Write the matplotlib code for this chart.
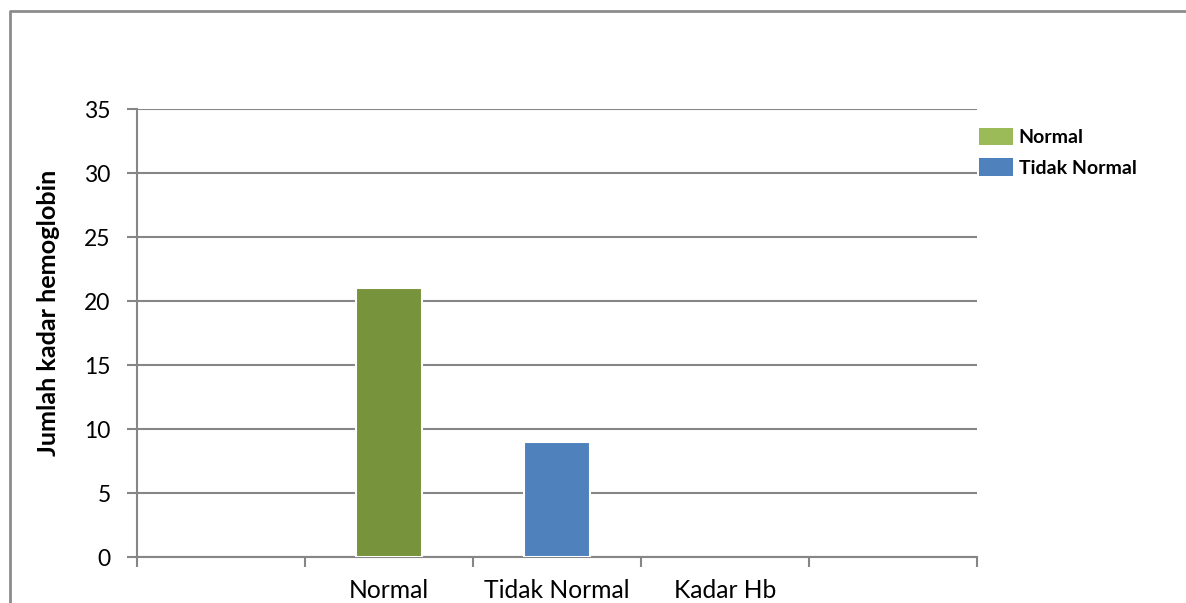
import matplotlib
matplotlib.use("Agg")
import matplotlib.pyplot as plt
from matplotlib.lines import Line2D
from matplotlib.patches import Patch

categories = ["", "Normal", "Tidak Normal", "Kadar Hb", ""]
series_names = ["Normal", "Tidak Normal"]
series_positions = [1, 2]
series_values = [21, 9]
bar_colors = ["#77933C", "#4F81BD"]
legend_colors = ["#9BBB59", "#4F81BD"]
yticks = [0, 5, 10, 15, 20, 25, 30, 35]

W, H = 1186, 603
fig = plt.figure(figsize=(W / 100, H / 100), dpi=100)
plt.rcParams['font.family'] = ['Lato', 'DejaVu Sans']

L, R, T, B = 137, 977, 109, 557
ax = fig.add_axes([L / W, (H - B) / H, (R - L) / W, (B - T) / H])

grid_c = "#868686"
ax.set_xlim(-0.5, len(categories) - 0.5)
ax.set_ylim(0, 35)
ax.set_yticks(yticks)
ax.yaxis.grid(True, color=grid_c, linewidth=1.5)
ax.set_axisbelow(True)

for pos, val, c in zip(series_positions, series_values, bar_colors):
    ax.bar(pos, val, width=0.39, color=c, edgecolor="white", linewidth=1.5, zorder=3)

ax.set_xticks([i - 0.5 for i in range(len(categories) + 1)])
ax.set_xticklabels([])
ax.set_xticks(range(len(categories)), minor=True)
ax.set_xticklabels(categories, minor=True, fontsize=17.7)
ax.tick_params(axis="x", which="minor", length=0, pad=16)
ax.tick_params(axis="x", which="major", length=7, color=grid_c, width=1.5)
ax.tick_params(axis="y", length=7, color=grid_c, width=1.5, labelsize=16.5, pad=12)

for s in ["top", "right"]:
    ax.spines[s].set_visible(False)
for s in ["left", "bottom"]:
    ax.spines[s].set_color(grid_c)
    ax.spines[s].set_linewidth(1.5)

fig.text(49 / W, 1 - 313 / H, "Jumlah kadar hemoglobin", rotation=90,
         ha="center", va="center", fontsize=18.2, fontweight="bold")

handles = [Patch(facecolor=c, edgecolor="none") for c in legend_colors]
leg = fig.legend(handles, series_names, loc="upper left",
                 bbox_to_anchor=(973 / W, 1 - 122 / H), frameon=False,
                 prop={"weight": "bold", "size": 14}, handlelength=1.75,
                 handleheight=1.0, handletextpad=0.3, labelspacing=0.62,
                 borderaxespad=0, borderpad=0.3)

fig.add_artist(Line2D([10 / W, 10 / W, 1.0], [0, 1 - 11 / H, 1 - 11 / H],
                      transform=fig.transFigure, color="#8c8c8c", linewidth=2))

fig.savefig("out.png", dpi=100)
